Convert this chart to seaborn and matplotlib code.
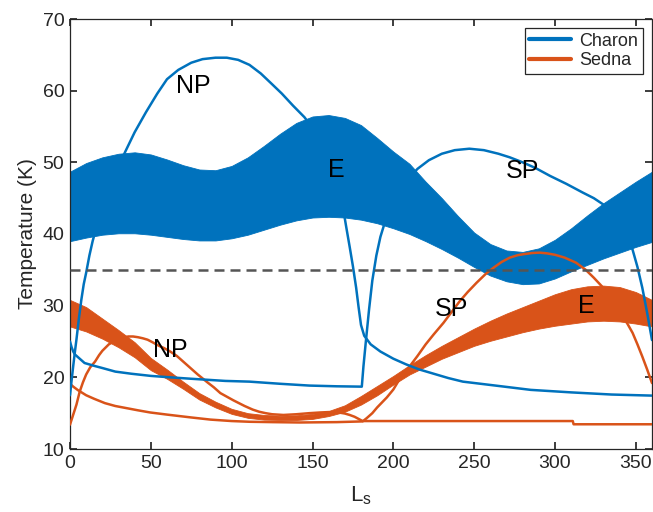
import matplotlib
matplotlib.use("Agg")
import matplotlib.pyplot as plt
from matplotlib.lines import Line2D
import numpy as np
import seaborn as sns

# Solar longitude grid for the equatorial (diurnal) bands
ls_grid = np.arange(0, 361, 10)

charon_eq_hi = [48.7, 49.9, 50.7, 51.2, 51.4, 51.1, 50.4, 49.6, 49.0, 48.9,
                49.5, 50.7, 52.3, 54.0, 55.5, 56.4, 56.6, 56.2, 55.2, 53.4,
                51.5, 49.8, 47.3, 45.0, 42.5, 40.2, 38.6, 37.7, 37.5, 38.0,
                39.2, 40.8, 42.6, 44.3, 45.8, 47.3, 48.7]
charon_eq_lo = [39.0, 39.5, 39.9, 40.1, 40.1, 39.9, 39.6, 39.3, 39.1, 39.1,
                39.4, 39.9, 40.6, 41.3, 41.9, 42.3, 42.4, 42.3, 42.0, 41.5,
                40.8, 40.0, 39.0, 37.9, 36.7, 35.4, 34.2, 33.4, 33.0, 33.1,
                33.8, 34.8, 35.7, 36.6, 37.4, 38.2, 38.9]
sedna_eq_hi = [30.8, 29.8, 28.2, 26.6, 24.9, 22.7, 21.1, 19.4, 17.8, 16.6,
               15.6, 15.0, 14.75, 14.65, 14.7, 14.9, 15.3, 16.1, 17.4, 18.8,
               20.2, 21.7, 23.1, 24.4, 25.6, 26.8, 27.9, 28.9, 29.8, 30.7,
               31.6, 32.3, 32.7, 32.8, 32.6, 31.9, 30.8]
sedna_eq_lo = [27.1, 26.4, 25.4, 24.2, 22.8, 21.0, 19.8, 18.4, 16.9, 15.8,
               14.9, 14.35, 14.1, 14.05, 14.05, 14.2, 14.6, 15.2, 16.2, 17.5,
               19.0, 20.4, 21.5, 22.6, 23.5, 24.4, 25.1, 25.7, 26.3, 26.8,
               27.2, 27.5, 27.8, 27.9, 27.8, 27.5, 27.1]

# Polar curves (Ls, temperature)
charon_np_ls = [0, 1, 2, 3, 4, 5.5, 7, 8.5, 10, 12, 14, 17, 20, 24, 28, 34, 40,
                47, 54, 60, 67, 75, 82, 90, 97, 104, 111, 118, 125, 131, 138, 145,
                150, 155, 160, 164, 168, 171, 173, 175, 177, 178.5, 180, 182, 186,
                192, 200, 208, 216, 225, 234, 243, 254, 265, 285, 310, 335, 360]
charon_np_t = [17.5, 19.6, 21.6, 23.5, 25.3, 28.2, 30.8, 33.0, 34.6, 37.0, 39.0,
               41.5, 43.6, 46.0, 48.3, 51.4, 54.2, 57.0, 59.6, 61.6, 62.9, 63.9,
               64.4, 64.6, 64.6, 64.3, 63.6, 62.4, 60.9, 59.6, 57.9, 56.3, 54.8,
               53.0, 50.8, 48.3, 44.8, 40.8, 38.2, 35.5, 32.5, 29.8, 27.3, 25.8,
               24.6, 23.6, 22.6, 21.8, 21.1, 20.5, 19.9, 19.4, 19.1, 18.8, 18.25,
               17.9, 17.6, 17.45]

charon_sp_ls = [0, 1, 2, 3, 6, 9, 15, 20, 28, 38, 50, 62, 75, 96, 111, 130, 148,
                165, 180.5, 181.5, 183, 185, 187, 189.5, 192, 195, 200, 205, 210,
                215, 222, 230, 238, 247, 256, 265, 272, 280, 288, 297, 307, 317,
                324, 330, 335, 340, 344, 348, 351, 354, 357, 360]
charon_sp_t = [25.0, 24.2, 23.6, 23.2, 22.6, 22.0, 21.6, 21.3, 20.8, 20.5, 20.2,
               20.0, 19.8, 19.5, 19.4, 19.1, 18.85, 18.75, 18.7, 21.5, 25.0, 29.5,
               33.5, 37.0, 39.6, 41.8, 44.5, 46.5, 47.9, 49.1, 50.3, 51.2, 51.7,
               51.9, 51.7, 51.2, 50.7, 50.0, 49.2, 48.1, 47.0, 45.8, 45.0, 44.1,
               43.2, 41.8, 40.0, 37.8, 35.4, 32.5, 29.0, 25.2]

sedna_np_ls = [0, 1, 2, 3, 4, 6, 8, 10, 12.5, 15.5, 18, 20, 24, 27, 30, 33, 36,
               39, 42, 45, 48, 51, 55, 58, 62, 66, 70, 74, 79, 85, 89, 93, 97, 101,
               108, 113, 117, 121, 125, 132, 140, 148, 155, 160, 166, 170, 173,
               176, 178.5, 181, 250, 311, 311.5, 360]
sedna_np_t = [13.4, 14.1, 14.8, 15.5, 16.2, 18.0, 19.3, 20.4, 21.4, 22.2, 23.1,
              23.7, 24.6, 25.0, 25.3, 25.55, 25.7, 25.7, 25.6, 25.45, 25.25, 24.9,
              24.4, 24.1, 23.6, 23.0, 22.2, 21.4, 20.4, 19.3, 18.6, 17.8, 17.3,
              16.8, 16.0, 15.5, 15.2, 15.0, 14.85, 14.75, 14.85, 15.0, 15.1, 15.15,
              15.1, 14.95, 14.75, 14.5, 14.2, 13.9, 13.9, 13.9, 13.45, 13.45]

sedna_sp_ls = [0, 2, 5, 10, 15, 21.6, 28, 35, 42, 49.5, 60, 75, 87, 100, 111,
               125, 142, 165, 181, 183.5, 187, 190, 193, 196, 200, 204, 207, 210,
               215, 220, 225, 231, 236, 241, 246, 251.5, 257, 262, 267, 272, 277,
               281, 286, 290.5, 295, 300, 306, 313, 319, 324, 329, 334, 338, 341,
               345, 348, 351, 354, 357, 360]
sedna_sp_t = [19.1, 18.7, 18.2, 17.5, 17.0, 16.4, 16.0, 15.7, 15.4, 15.1, 14.8,
              14.4, 14.1, 13.9, 13.8, 13.75, 13.7, 13.75, 13.85, 14.3, 15.0, 15.8,
              16.5, 17.2, 18.3, 19.8, 20.6, 21.5, 23.0, 24.6, 26.0, 27.6, 29.1,
              30.6, 31.9, 33.2, 34.4, 35.3, 36.1, 36.7, 37.05, 37.2, 37.35, 37.4,
              37.3, 37.1, 36.7, 36.0, 35.0, 33.9, 32.7, 31.3, 30.0, 28.9, 27.4,
              26.2, 24.6, 22.9, 21.1, 19.2]

threshold = 35

blue = "#0072BD"
orange = "#D95319"
ink = "#262626"

sns.set_theme(style="ticks", rc={
    "xtick.direction": "in", "ytick.direction": "in",
    "xtick.top": True, "ytick.right": True,
    "xtick.major.size": 5, "ytick.major.size": 5,
    "axes.edgecolor": ink, "xtick.color": ink, "ytick.color": ink,
    "axes.labelcolor": ink, "axes.linewidth": 0.9,
})
plt.rcParams["font.family"] = ["Liberation Sans", "DejaVu Sans"]
plt.rcParams["mathtext.default"] = "regular"

fig = plt.figure(figsize=(6.53, 5.12), dpi=100)
ax = fig.add_axes([70 / 653, 1 - 449 / 512, 582 / 653, 430 / 512])

# equatorial bands
ax.fill_between(ls_grid, charon_eq_lo, charon_eq_hi, color=blue, lw=0.6, zorder=2)
ax.fill_between(ls_grid, sedna_eq_lo, sedna_eq_hi, color=orange, lw=0.6, zorder=2)

# polar curves
for xs, ys, c in [(sedna_np_ls, sedna_np_t, orange), (sedna_sp_ls, sedna_sp_t, orange),
                  (charon_np_ls, charon_np_t, blue), (charon_sp_ls, charon_sp_t, blue)]:
    sns.lineplot(x=xs, y=ys, ax=ax, color=c, lw=1.8, sort=False, estimator=None, zorder=3)

ax.axhline(threshold, color="#555555", lw=1.8, dashes=(4, 2.4), zorder=4)

# region labels
for x, y, s in [(76, 60.6, "NP"), (165, 48.9, "E"), (280, 48.8, "SP"),
                (62, 23.8, "NP"), (236, 29.5, "SP"), (319.5, 30.0, "E")]:
    ax.text(x, y, s, fontsize=18, ha="center", va="center", color="black", zorder=5)

ax.set_xlim(0, 360)
ax.set_ylim(10, 70)
ax.set_xticks(np.arange(0, 351, 50))
ax.set_yticks(np.arange(10, 71, 10))
ax.tick_params(labelsize=14, pad=4)
ax.set_xlabel("L$_s$", fontsize=16, labelpad=9)
ax.set_ylabel("Temperature (K)", fontsize=15, labelpad=4)

handles = [Line2D([], [], color=blue, lw=3), Line2D([], [], color=orange, lw=3)]
leg = ax.legend(handles, ["Charon", "Sedna"], loc="upper right", fontsize=13,
                frameon=True, fancybox=False, edgecolor=ink, framealpha=1,
                handlelength=2.3, handletextpad=0.5, borderpad=0.25,
                labelspacing=0.15, borderaxespad=0.5)
leg.get_frame().set_linewidth(0.9)

fig.savefig("out.png", dpi=100)
